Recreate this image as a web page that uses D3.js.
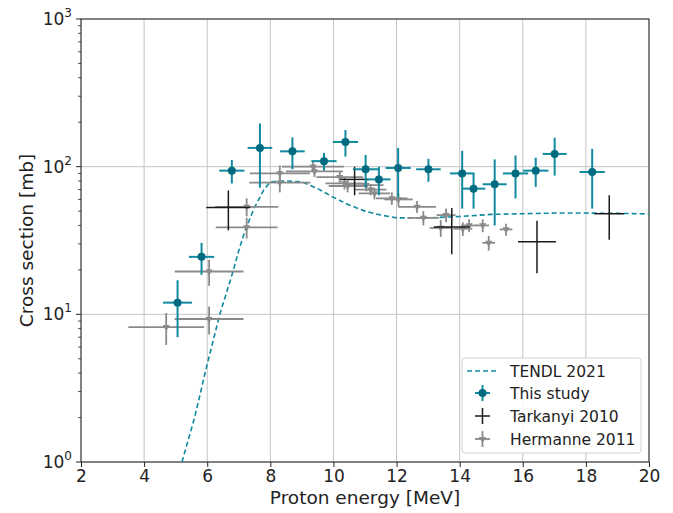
<!DOCTYPE html>
<html>
<head>
<meta charset="utf-8">
<script src="https://cdn.jsdelivr.net/npm/d3@7"></script>
<style>
body { margin: 0; background: #fff; }
text { font-family: "DejaVu Sans", sans-serif; fill: #222; }
</style>
</head>
<body>
<svg id="chart" width="673" height="513"></svg>
<script>
// TENDL 2021 curve
var tendlE  = [5.2, 5.6, 6.0, 6.4, 6.8, 7.0, 7.2, 7.5, 7.8, 8.0, 8.5, 9.0, 9.5, 10, 10.5, 11, 11.5, 12, 13, 14, 15, 16, 17, 18, 19, 20];
var tendlXS = [1, 2, 4.6, 10, 19, 27, 37, 53, 70, 79, 80, 79, 71, 62, 55, 50, 47, 45, 45, 46, 47.5, 48, 48.5, 48.5, 48.3, 47.8];

// This study
var studyE   = [5.06, 5.82, 6.78, 7.67, 8.70, 9.70, 10.38, 11.02, 11.44, 12.05, 13.01, 14.08, 14.44, 15.11, 15.77, 16.41, 17.01, 18.2];
var studyDE  = [0.46, 0.4, 0.4, 0.39, 0.39, 0.4, 0.4, 0.4, 0.37, 0.4, 0.39, 0.39, 0.37, 0.38, 0.4, 0.4, 0.38, 0.4];
var studyXS  = [12, 24.5, 94, 134, 127, 109, 147, 96, 82, 98, 96, 90, 71, 76, 90, 94, 122, 92];
var studyDXS = [5, 6, 17, 62, 31, 15, 30, 24, 18, 36, 17, 38, 19, 36, 29, 21, 35, 40];

// Tarkanyi 2010
var tarkE   = [6.67, 10.67, 13.75, 16.45, 18.74];
var tarkDE  = [0.7, 0.45, 0.57, 0.6, 0.47];
var tarkXS  = [53, 82, 39, 31, 48];
var tarkDXS = [16, 18, 13.5, 12, 16];

// Hermanne 2011
var hermE   = [4.7, 6.06, 6.06, 7.25, 7.25, 8.3, 8.3, 9.35, 9.4, 10.2, 10.35, 10.45, 11.04, 11.18, 11.3, 11.85, 12.06, 12.65, 12.85, 13.4, 13.57, 14.1, 14.3, 14.73, 14.92, 15.47];
var hermDE  = [1.2, 1.09, 1.09, 1.0, 0.98, 0.95, 0.97, 0.98, 0.9, 0.74, 0.6, 0.6, 0.55, 0.5, 0.5, 0.5, 0.45, 0.6, 0.5, 0.35, 0.3, 0.3, 0.25, 0.2, 0.2, 0.2];
var hermXS  = [8.2, 9.3, 19.5, 53.5, 38.8, 90, 78, 100, 93, 85, 77, 74, 75, 70, 66, 61, 60, 53.5, 45, 38.5, 47, 38, 40, 40, 30.5, 37.6];
var hermDXS = [2.0, 2.0, 3.9, 7.5, 6.2, 12, 11, 8, 8, 8, 7, 7, 7, 6, 6, 6, 6, 5, 5, 5, 5, 4, 4, 4, 3.5, 3.5];

var xTicks = [2, 4, 6, 8, 10, 12, 14, 16, 18, 20];
var yExps = [0, 1, 2, 3];

var pLeft = 81, pRight = 649, pTop = 19, pBottom = 462;
var tealLine = "#0f8a9e", tealDot = "#006b80", black = "#1a1a1a", gray = "#8a8a8a";

var svg = d3.select("#chart");
var x = d3.scaleLinear().domain([2, 20]).range([pLeft, pRight]);
var y = d3.scaleLog().domain([1, 1000]).range([pBottom, pTop]);

svg.append("defs").append("clipPath").attr("id", "clip")
  .append("rect").attr("x", pLeft).attr("y", pTop)
  .attr("width", pRight - pLeft).attr("height", pBottom - pTop);

// grid
svg.append("g").selectAll("line").data(xTicks).enter().append("line")
  .attr("x1", function(d) { return x(d); }).attr("x2", function(d) { return x(d); })
  .attr("y1", pTop).attr("y2", pBottom)
  .attr("stroke", "#c4c4c4").attr("stroke-width", 1);
svg.append("g").selectAll("line").data(yExps).enter().append("line")
  .attr("x1", pLeft).attr("x2", pRight)
  .attr("y1", function(d) { return y(Math.pow(10, d)); }).attr("y2", function(d) { return y(Math.pow(10, d)); })
  .attr("stroke", "#c4c4c4").attr("stroke-width", 1);

// axes
var xAxis = svg.append("g").attr("transform", "translate(0," + pBottom + ")")
  .call(d3.axisBottom(x).tickValues(xTicks).tickSize(5).tickPadding(3).tickFormat(d3.format("d")));
xAxis.select(".domain").remove();
xAxis.selectAll("text").style("font-size", "17px").style("font-family", "DejaVu Sans").attr("fill", "#222");
xAxis.selectAll("line").attr("stroke", "#222");

var minor = [];
for (var e = 0; e < 3; e++) for (var m = 2; m < 10; m++) minor.push(m * Math.pow(10, e));
svg.append("g").selectAll("line").data(minor).enter().append("line")
  .attr("x1", pLeft - 3).attr("x2", pLeft)
  .attr("y1", function(d) { return y(d); }).attr("y2", function(d) { return y(d); })
  .attr("stroke", "#222").attr("stroke-width", 0.8);
svg.append("g").selectAll("line").data(yExps).enter().append("line")
  .attr("x1", pLeft - 5).attr("x2", pLeft)
  .attr("y1", function(d) { return y(Math.pow(10, d)); }).attr("y2", function(d) { return y(Math.pow(10, d)); })
  .attr("stroke", "#222").attr("stroke-width", 1);

var yLab = svg.append("g").selectAll("text").data(yExps).enter().append("text")
  .attr("x", pLeft - 9).attr("y", function(d) { return y(Math.pow(10, d)) + 6; })
  .attr("text-anchor", "end").style("font-size", "17px");
yLab.append("tspan").text("10");
yLab.append("tspan").attr("dy", -8).style("font-size", "12px").text(function(d) { return d; });

svg.append("rect").attr("x", pLeft).attr("y", pTop)
  .attr("width", pRight - pLeft).attr("height", pBottom - pTop)
  .attr("fill", "none").attr("stroke", "#222").attr("stroke-width", 1);

svg.append("text").attr("x", (pLeft + pRight) / 2).attr("y", 504)
  .attr("text-anchor", "middle").style("font-size", "18.5px").text("Proton energy [MeV]");
svg.append("text").attr("transform", "translate(33," + ((pTop + pBottom) / 2) + ") rotate(-90)")
  .attr("text-anchor", "middle").style("font-size", "18.5px").text("Cross section [mb]");

var plot = svg.append("g").attr("clip-path", "url(#clip)");

// TENDL
plot.append("path")
  .datum(d3.range(tendlE.length))
  .attr("d", d3.line().x(function(i) { return x(tendlE[i]); }).y(function(i) { return y(tendlXS[i]); }))
  .attr("fill", "none").attr("stroke", tealLine).attr("stroke-width", 1.6)
  .attr("stroke-dasharray", "5,3");

function errorbars(E, DE, XS, DXS, color, width) {
  var g = plot.append("g");
  var idx = d3.range(E.length);
  g.selectAll(".h").data(idx).enter().append("line")
    .attr("x1", function(i) { return x(E[i] - DE[i]); }).attr("x2", function(i) { return x(E[i] + DE[i]); })
    .attr("y1", function(i) { return y(XS[i]); }).attr("y2", function(i) { return y(XS[i]); })
    .attr("stroke", color).attr("stroke-width", width);
  g.selectAll(".v").data(idx).enter().append("line")
    .attr("x1", function(i) { return x(E[i]); }).attr("x2", function(i) { return x(E[i]); })
    .attr("y1", function(i) { return y(XS[i] - DXS[i]); }).attr("y2", function(i) { return y(XS[i] + DXS[i]); })
    .attr("stroke", color).attr("stroke-width", width);
  return g;
}

// Hermanne
var gh = errorbars(hermE, hermDE, hermXS, hermDXS, gray, 1.8);
gh.selectAll("path").data(d3.range(hermE.length)).enter().append("path")
  .attr("d", d3.symbol(d3.symbolTriangle, 22))
  .attr("transform", function(i) { return "translate(" + x(hermE[i]) + "," + y(hermXS[i]) + ") rotate(180)"; })
  .attr("fill", gray);

// Tarkanyi
errorbars(tarkE, tarkDE, tarkXS, tarkDXS, black, 1.5);

// This study
var gs = errorbars(studyE, studyDE, studyXS, studyDXS, tealLine, 2);
gs.selectAll("circle").data(d3.range(studyE.length)).enter().append("circle")
  .attr("cx", function(i) { return x(studyE[i]); }).attr("cy", function(i) { return y(studyXS[i]); })
  .attr("r", 4).attr("fill", tealDot);

// legend
var lg = svg.append("g");
lg.append("rect").attr("x", 462).attr("y", 358).attr("width", 179).attr("height", 95)
  .attr("rx", 3).attr("fill", "#fff").attr("fill-opacity", 0.85)
  .attr("stroke", "#d0d0d0").attr("stroke-width", 1);
var items = ["TENDL 2021", "This study", "Tarkanyi 2010", "Hermanne 2011"];
var rowY = [371, 393, 416, 439];
lg.selectAll("text").data(items).enter().append("text")
  .attr("x", 510).attr("y", function(d, i) { return rowY[i] + 5.5; })
  .style("font-size", "15.5px").text(function(d) { return d; });
lg.append("line").attr("x1", 467).attr("x2", 498).attr("y1", rowY[0]).attr("y2", rowY[0])
  .attr("stroke", tealLine).attr("stroke-width", 1.6).attr("stroke-dasharray", "5,3");
var hs = [[tealLine, 2], [black, 1.5], [gray, 1.8]];
hs.forEach(function(h, k) {
  var cy = rowY[k + 1];
  lg.append("line").attr("x1", 475).attr("x2", 490).attr("y1", cy).attr("y2", cy).attr("stroke", h[0]).attr("stroke-width", h[1]);
  lg.append("line").attr("x1", 482.5).attr("x2", 482.5).attr("y1", cy - 8).attr("y2", cy + 8).attr("stroke", h[0]).attr("stroke-width", h[1]);
});
lg.append("circle").attr("cx", 482.5).attr("cy", rowY[1]).attr("r", 4).attr("fill", tealDot);
lg.append("path").attr("d", d3.symbol(d3.symbolTriangle, 22))
  .attr("transform", "translate(482.5," + rowY[3] + ") rotate(180)").attr("fill", gray);
</script>
</body>
</html>
